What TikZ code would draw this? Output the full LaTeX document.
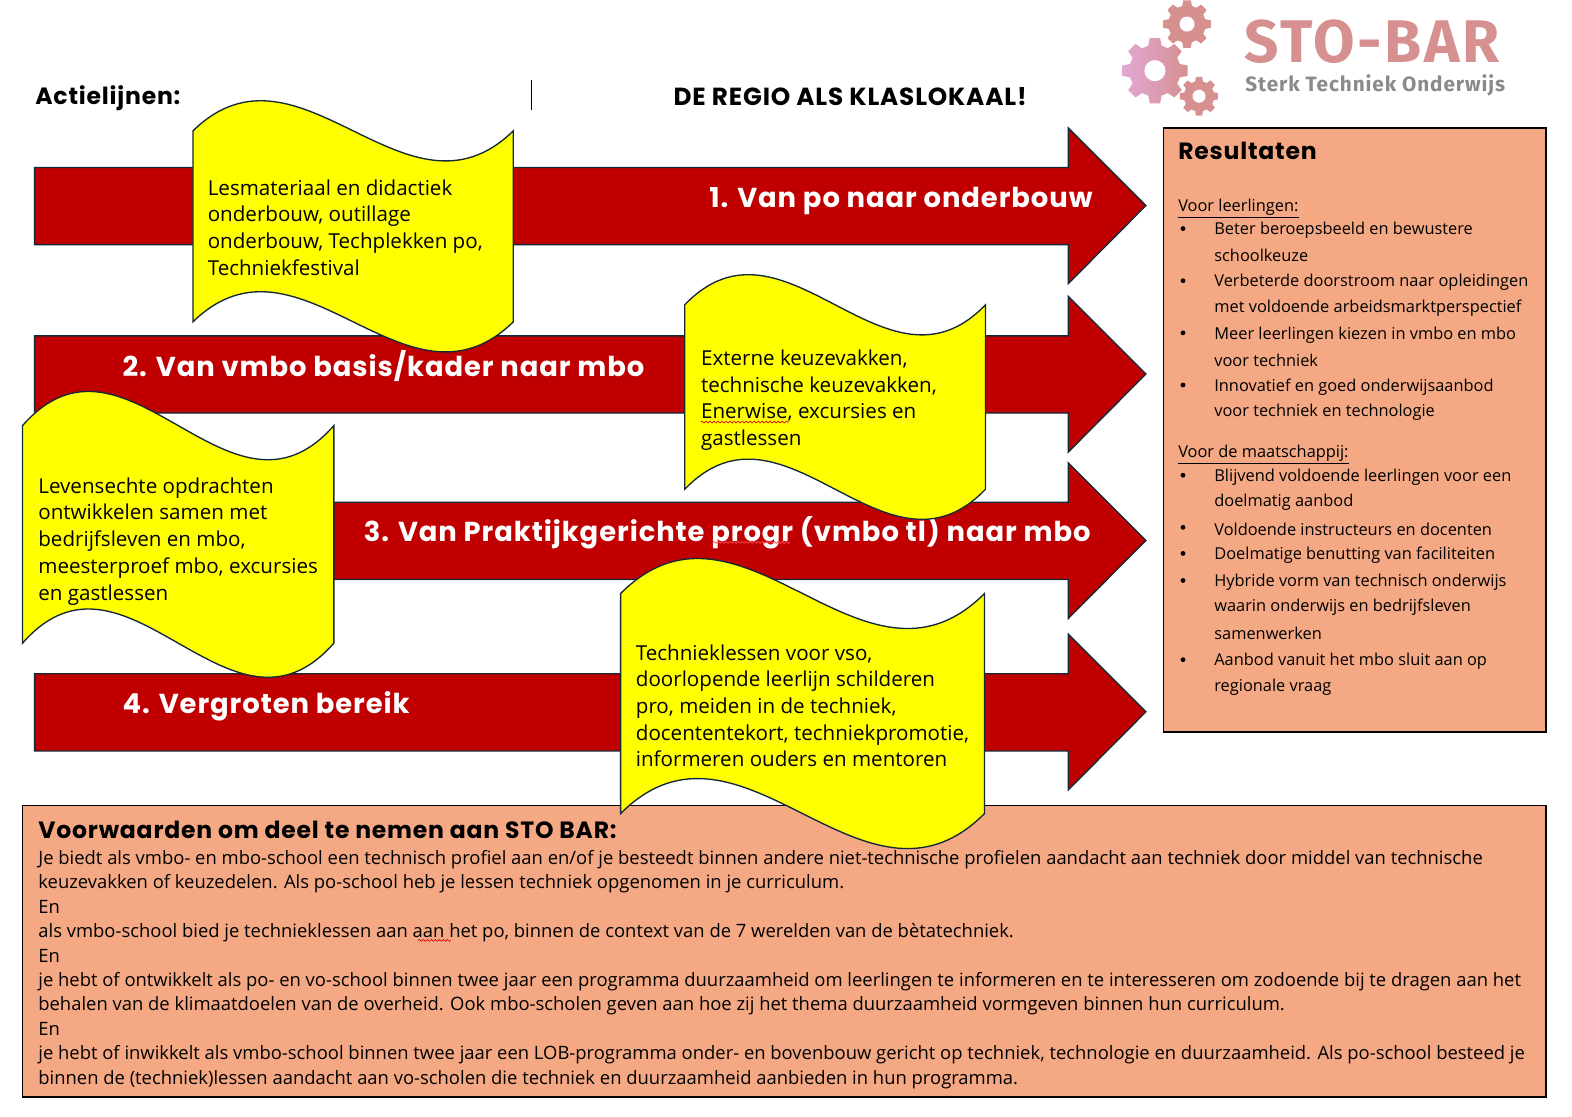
\documentclass[tikz,border=0pt]{standalone}
\usepackage{fontspec}
\setmainfont{Open Sans}
\newfontfamily\headfont[LetterSpace=3.4]{Poppins}
\newfontfamily\logofont[LetterSpace=4.5]{Fira Sans}
\usetikzlibrary{decorations.pathmorphing}
\newcommand{\wavefont}{\fontsize{15.4}{20}\selectfont}
\begin{document}
\begin{tikzpicture}[x=0.75pt,y=-0.75pt,every node/.style={inner sep=0pt},
  barhead/.style={font=\headfont\bfseries\fontsize{20.5}{24}\selectfont,text=white},
  boxhead/.style={font=\headfont\bfseries\fontsize{17.6}{20}\selectfont,anchor=west},
  sideline/.style={font=\fontsize{12.25}{14}\selectfont,anchor=west},
  condline/.style={font=\fontsize{13.78}{16}\selectfont,anchor=west},
  wavetext/.style={font=\wavefont,align=left,anchor=west},
  orangebox/.style={draw=black,line width=1.3pt,fill=boxorange},
  spellmark/.style={draw=red!85!black,line width=0.5pt,decorate,decoration={snake,amplitude=0.7pt,segment length=3pt}}]
\definecolor{barred}{RGB}{192,0,0}
\definecolor{edgeblue}{RGB}{20,40,55}
\definecolor{boxorange}{RGB}{244,169,132}
\definecolor{waveyellow}{RGB}{255,255,0}
\definecolor{logorose}{RGB}{214,144,144}
\definecolor{logopink}{RGB}{226,168,212}
\definecolor{logogray}{RGB}{138,138,138}
\useasboundingbox (0,0) rectangle (1568,1114);
\fill[white] (0,0) rectangle (1568,1114);
% Logo gears: {x, y, radius, hole, left colour, right colour}
\foreach \gx/\gy/\gr/\gh/\gl/\gd in {
  1184/24/24/7.5/logorose/logorose,
  1152/70.5/33/10.5/logopink/logorose,
  1196/96/19.5/6.5/logorose/logorose%
} {
  \path[left color=\gl,right color=\gd] ([shift={(\gx,\gy)}]-15:0.78*\gr)
    foreach \a in {0,45,...,315} {
      -- ([shift={(\gx,\gy)}]\a-15:0.78*\gr) -- ([shift={(\gx,\gy)}]\a-9:\gr)
      -- ([shift={(\gx,\gy)}]\a+9:\gr) -- ([shift={(\gx,\gy)}]\a+15:0.78*\gr)
    } -- cycle;
  \fill[white] (\gx,\gy) circle (\gh);
}
\node[font=\logofont\bfseries\fontsize{45}{50}\selectfont,text=logorose,anchor=base west] (logotitle) at (1241,62) {STO-BAR};
\node[font=\logofont\bfseries\fontsize{15.5}{18}\selectfont,text=logogray,anchor=base west] (logosub) at (1242,91) {Sterk Techniek Onderwijs};
% Header
\node[boxhead] (actie) at (35,98) {Actielijnen:};
\node[boxhead,font=\headfont\bfseries\fontsize{18.5}{20}\selectfont,anchor=center] (regio) at (848,96) {DE REGIO ALS KLASLOKAAL!};
\draw[line width=0.7pt] (530,80) -- (530,110);
% Arrows: {top of shaft, tip height}
\foreach \ytop [count=\i] in {167,335,501,672} {
  \draw[fill=barred,draw=edgeblue,line width=1pt] (34.5,\ytop) -- (1065.5,\ytop) -- (1065.5,\ytop-39.5)
    -- (1143,\ytop+38) -- (1065.5,\ytop+116) -- (1065.5,\ytop+77) -- (34.5,\ytop+77) -- cycle;
}
% Arrow labels
\node[barhead,anchor=east] (line1) at (1090,200) {1. Van po naar onderbouw};
\node[barhead,anchor=west] (line2) at (122,365) {2. Van vmbo basis/kader naar mbo};
\node[barhead,anchor=east] (line3) at (1088,531) {3. Van Praktijkgerichte progr (vmbo tl) naar mbo};
\node[barhead,anchor=west] (line4) at (122,704) {4. Vergroten bereik};
\draw[spellmark,draw=red!70!white] (711,541) -- (788,541);
% Result box
\draw[orangebox] (1160.5,127.5) rectangle (1542,730);
\node[boxhead] (results) at (1175,151) {Resultaten};
\foreach \ty/\txt in {
  208/{\underline{Voor leerlingen:}},
  453/{\underline{Voor de maatschappij:}}%
} {
  \node[sideline] at (1175,\ty) {\txt};
}
\foreach \ty/\txt in {
  230/Beter beroepsbeeld en bewustere,
  255/schoolkeuze,
  282/Verbeterde doorstroom naar opleidingen,
  307/met voldoende arbeidsmarktperspectief,
  334/Meer leerlingen kiezen in vmbo en mbo,
  359/voor techniek,
  386/Innovatief en goed onderwijsaanbod,
  411/voor techniek en technologie,
  476/Blijvend voldoende leerlingen voor een,
  501/doelmatig aanbod,
  528/Voldoende instructeurs en docenten,
  554/Doelmatige benutting van faciliteiten,
  581/Hybride vorm van technisch onderwijs,
  606/waarin onderwijs en bedrijfsleven,
  632/samenwerken,
  660/Aanbod vanuit het mbo sluit aan op,
  685/regionale vraag%
} {
  \node[sideline] at (1211,\ty) {\txt};
}
\foreach \ty in {228,280,332,384,474,526,552,579,658} {
  \fill (1180,\ty) circle (2.4);
}
% Conditions box
\draw[orangebox] (22.5,803.5) rectangle (1542,1094);
\node[boxhead] (voorwaarden) at (38,828) {Voorwaarden om deel te nemen aan STO BAR:};
\foreach \ty/\txt in {
  857/{Je biedt als vmbo- en mbo-school een technisch profiel aan en/of je besteedt binnen andere niet-technische profielen aandacht aan techniek door middel van technische},
  881/{keuzevakken of keuzedelen. Als po-school heb je lessen techniek opgenomen in je curriculum.},
  905/En,
  930/{als vmbo-school bied je technieklessen aan aan het po, binnen de context van de 7 werelden van de bètatechniek.},
  953/En,
  979/{je hebt of ontwikkelt als po- en vo-school binnen twee jaar een programma duurzaamheid om leerlingen te informeren en te interesseren om zodoende bij te dragen aan het},
  1003/{behalen van de klimaatdoelen van de overheid. Ook mbo-scholen geven aan hoe zij het thema duurzaamheid vormgeven binnen hun curriculum.},
  1026/En,
  1052/{je hebt of inwikkelt als vmbo-school binnen twee jaar een LOB-programma onder- en bovenbouw gericht op techniek, technologie en duurzaamheid. Als po-school besteed je},
  1077/{binnen de (techniek)lessen aandacht aan vo-scholen die techniek en duurzaamheid aanbieden in hun programma.}%
} {
  \node[condline] at (38,\ty) {\txt};
}
\draw[spellmark] (417,938) -- (450,938);
% Waves: {left, right, top edge, bottom edge, amplitude}
\foreach \xl/\xr/\yt/\yb/\amp in {
  192.5/512/130.5/321/104,
  683/983/304/488/104,
  22.5/333/424.5/641.5/118,
  619/982/592/811.5/121%
} {
  \pgfmathsetmacro{\xa}{\xl+(\xr-\xl)/3}
  \pgfmathsetmacro{\xb}{\xl+2*(\xr-\xl)/3}
  \draw[fill=waveyellow,draw=edgeblue,line width=1pt] (\xl,\yt)
    .. controls (\xa,\yt-\amp) and (\xb,\yt+\amp) .. (\xr,\yt) -- (\xr,\yb)
    .. controls (\xb,\yb+\amp) and (\xa,\yb-\amp) .. (\xl,\yb) -- cycle;
}
% Wave texts
\node[wavetext] (wave1) at (207,227) {Lesmateriaal en didactiek\\onderbouw, outillage\\onderbouw, Techplekken po,\\Techniekfestival};
\node[wavetext] (wave2) at (699,399) {Externe keuzevakken,\\technische keuzevakken,\\Enerwise, excursies en\\gastlessen};
\node[wavetext] (wave3) at (38,540) {Levensechte opdrachten\\ontwikkelen samen met\\bedrijfsleven en mbo,\\meesterproef mbo, excursies\\en gastlessen};
\node[wavetext] (wave4) at (634,704) {Technieklessen voor vso,\\doorlopende leerlijn schilderen\\pro, meiden in de techniek,\\docententekort, techniekpromotie,\\informeren ouders en mentoren};
\draw[spellmark] (699,421) -- (787,421);
\end{tikzpicture}
\end{document}
